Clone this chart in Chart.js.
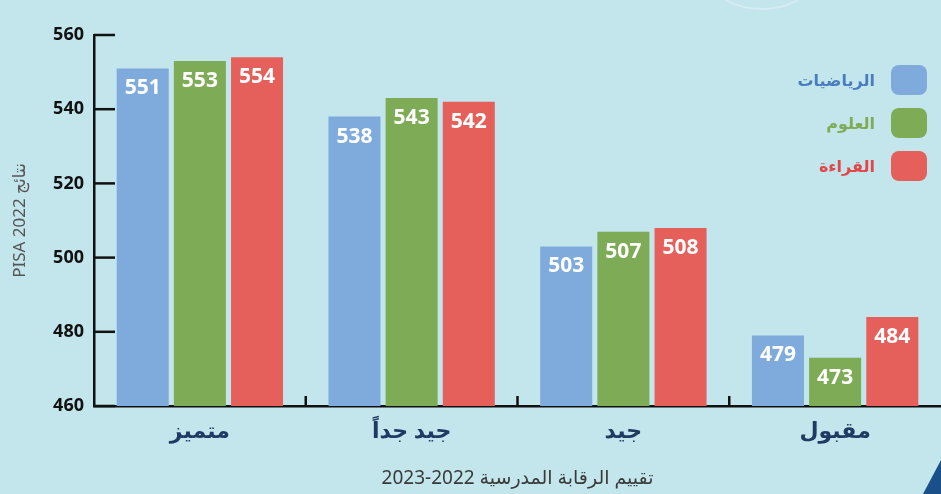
<!DOCTYPE html>
<html lang="ar">
<head>
<meta charset="utf-8">
<script src="https://cdn.jsdelivr.net/npm/chart.js@4/dist/chart.umd.min.js"></script>
<style>
  html, body { margin: 0; padding: 0; }
  body { width: 941px; height: 494px; background: #c3e5ec; position: relative; overflow: hidden; font-family: "Noto Sans", "DejaVu Sans", sans-serif; }
  #wrap { position: absolute; left: 0; top: 0; width: 941px; height: 494px; }
  #corner { position: absolute; right: 0; bottom: 0; width: 18px; height: 34px; background: #1b4f8a; clip-path: polygon(100% 0, 100% 100%, 0 100%); }
  #arc { position: absolute; left: 715px; top: -42px; width: 90px; height: 48px; border-radius: 50%; border: 2px solid rgba(255,255,255,0.3); }
  #legend { position: absolute; right: 14px; top: 65px; direction: rtl; }
  #legend div { display: flex; align-items: center; height: 30px; margin-bottom: 13px; font-weight: bold; font-size: 16px; }
  #legend span.box { width: 36px; height: 30px; border-radius: 8px; margin-left: 16px; }
</style>
</head>
<body>
<div id="arc"></div>
<div id="corner"></div>
<div id="wrap"><canvas id="grafico" width="941" height="494"></canvas></div>
<div id="legend"></div>
<script>
const categorias = ["متميز", "جيد جداً", "جيد", "مقبول"];
const nombresSeries = ["الرياضيات", "العلوم", "القراءة"];
const matematicas = [551, 538, 503, 479];
const ciencias = [553, 543, 507, 473];
const lectura = [554, 542, 508, 484];
const colores = ["#7eaadc", "#7eab56", "#e5605b"];
const coloresTexto = ["#4a7dc0", "#7eab56", "#e0484a"];
const fuente = "'Noto Sans', 'DejaVu Sans', sans-serif";

// leyenda html
nombresSeries.forEach(function(nombre, i){
    const fila = document.createElement("div");
    fila.innerHTML = "<span class='box' style='background:" + colores[i] + "'></span><span style='color:" + coloresTexto[i] + "'>" + nombre + "</span>";
    document.getElementById("legend").appendChild(fila);
});

// ticks hacia dentro y etiquetas de valores
const marcasPlugin = {
    id: "marcas",
    afterDraw: function(chart){
        const ctx = chart.ctx;
        const y = chart.scales.y;
        const x = chart.scales.x;
        ctx.save();
        ctx.strokeStyle = "#111";
        ctx.lineWidth = 2.5;
        y.ticks.forEach(function(t, i){
            const py = y.getPixelForTick(i);
            ctx.beginPath();
            ctx.moveTo(y.right, py);
            ctx.lineTo(y.right + 21, py);
            ctx.stroke();
        });
        for (let i = 0; i < categorias.length - 1; i++) {
            const px = (x.getPixelForTick(i) + x.getPixelForTick(i + 1)) / 2;
            ctx.beginPath();
            ctx.moveTo(px, x.top);
            ctx.lineTo(px, x.top - 10);
            ctx.stroke();
        }
        ctx.restore();
    },
    afterDatasetsDraw: function(chart){
        const ctx = chart.ctx;
        ctx.save();
        ctx.fillStyle = "#ffffff";
        ctx.font = "bold 21px " + fuente;
        ctx.textAlign = "center";
        ctx.textBaseline = "middle";
        chart.data.datasets.forEach(function(ds, d){
            chart.getDatasetMeta(d).data.forEach(function(bar, i){
                ctx.fillText(ds.data[i], bar.x, bar.y + 20);
            });
        });
        ctx.restore();
    }
};

const series = [matematicas, ciencias, lectura];
const datasets = series.map(function(valores, i){
    return {
        label: nombresSeries[i],
        data: valores,
        backgroundColor: colores[i],
        borderWidth: 0,
        categoryPercentage: 0.81,
        barPercentage: 0.91
    };
});

new Chart(document.getElementById("grafico"), {
    type: "bar",
    data: { labels: categorias, datasets: datasets },
    plugins: [marcasPlugin],
    options: {
        responsive: false,
        animation: false,
        layout: { padding: { top: 35, right: 0, left: 0, bottom: 0 } },
        plugins: { legend: { display: false }, tooltip: { enabled: false } },
        scales: {
            x: {
                grid: { display: false },
                border: { display: true, color: "#111", width: 2.5 },
                ticks: { color: "#1f3a63", font: { size: 22, weight: "bold", family: fuente }, padding: 5 },
                title: { display: true, text: "تقييم الرقابة المدرسية 2022-2023", color: "#3a3a3a", font: { size: 19, family: fuente }, padding: { top: 10 } },
                afterFit: function(scale){ scale.height = 88; }
            },
            y: {
                min: 460,
                max: 560,
                ticks: { stepSize: 20, color: "#111", font: { size: 18, weight: "bold", family: fuente }, padding: 2 },
                grid: { display: false },
                border: { display: true, color: "#111", width: 2.5 },
                title: { display: true, text: "PISA 2022 نتائج", color: "#555", font: { size: 17, family: fuente }, padding: { top: 10, bottom: 6 } },
                afterFit: function(scale){ scale.width = 94; }
            }
        }
    }
});
</script>
</body>
</html>
